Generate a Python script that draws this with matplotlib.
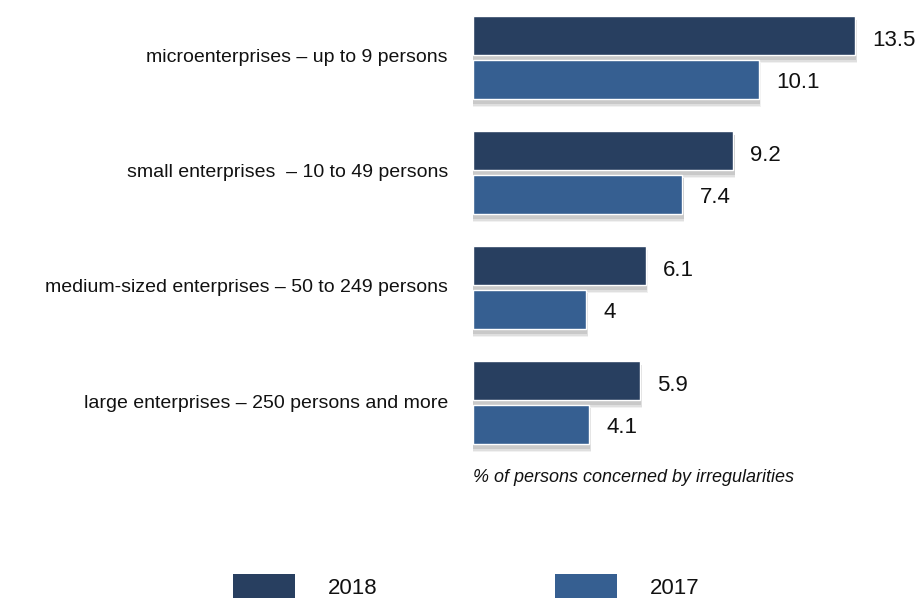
import matplotlib
matplotlib.use('Agg')

import numpy as np
import matplotlib.pyplot as plt
from matplotlib.patches import Rectangle

plt.rcParams['font.family'] = ['Liberation Sans', 'DejaVu Sans']

categories = [
    'microenterprises \u2013 up to 9 persons',
    'small enterprises  \u2013 10 to 49 persons',
    'medium-sized enterprises \u2013 50 to 249 persons',
    'large enterprises \u2013 250 persons and more',
]
years = ['2018', '2017']
values_2018 = [13.5, 9.2, 6.1, 5.9]
values_2017 = [10.1, 7.4, 4.0, 4.1]
value_labels_2018 = ['13.5', '9.2', '6.1', '5.9']
value_labels_2017 = ['10.1', '7.4', '4', '4.1']

c18 = '#283f60'
c17 = '#365f91'

W, H = 919, 598
fig = plt.figure(figsize=(W / 100, H / 100), dpi=100)
ax = fig.add_axes([473 / W, 0, (W - 473) / W, 1])
ax.set_xlim(0, (W - 473) / 28.3)
ax.set_ylim(598 / 115 - 0.5, -0.5)
ax.axis('off')

y = np.arange(len(categories))
h = 0.34
off = 0.19

def shadowed(ypos, vals, color):
    # soft drop shadow: a few stacked translucent grey bars
    for k, a in enumerate([0.07, 0.10, 0.14]):
        d = 0.014 * (3 - k)
        ax.barh(ypos + 0.03 + d * 0.5, np.array(vals) + 0.03 + d, height=h + d,
                left=0, color='#444444', alpha=a, lw=0, zorder=1)
    ax.barh(ypos, vals, height=h, color=color, edgecolor='white', lw=1.0, zorder=3)

shadowed(y - off, values_2018, c18)
shadowed(y + off, values_2017, c17)

for i in range(len(categories)):
    ax.text(values_2018[i] + 0.6, y[i] - off + 0.04, value_labels_2018[i],
            fontsize=16, va='center', ha='left', color='#111111')
    ax.text(values_2017[i] + 0.6, y[i] + off + 0.03, value_labels_2017[i],
            fontsize=16, va='center', ha='left', color='#111111')
    fig.text(448 / W, 1 - (58 + 115 * i) / H, categories[i], fontsize=14,
             ha='right', va='center', color='#111111')

fig.text(473 / W, 1 - 477 / H, '% of persons concerned by irregularities',
         fontsize=13, style='italic', ha='left', va='center', color='#111111')

# legend
for x0, lab, col in [(233, years[0], c18), (555, years[1], c17)]:
    fig.add_artist(Rectangle((x0 / W, 0), 62 / W, 24 / H, transform=fig.transFigure,
                             facecolor=col, edgecolor='none'))
    fig.text((x0 + 95) / W, 1 - 588 / H, lab, fontsize=16, ha='left', va='center',
             color='#111111')

fig.savefig('out.png', dpi=100)
